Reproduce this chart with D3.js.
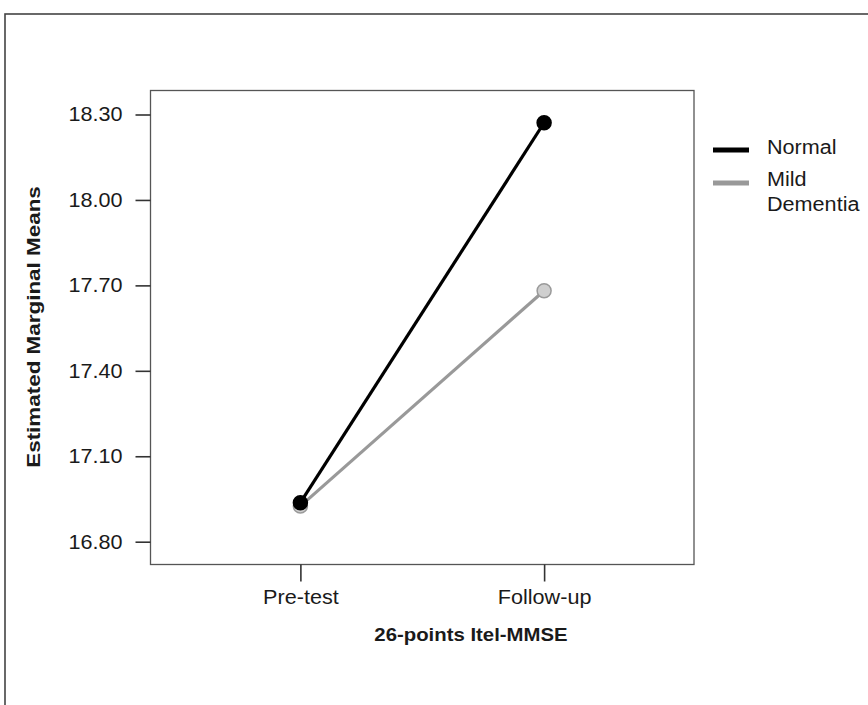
<!DOCTYPE html>
<html><head><meta charset="utf-8">
<script src="https://cdn.jsdelivr.net/npm/d3@7"></script>
<style>
html,body{margin:0;padding:0;background:#fff;}
text{font-family:"Liberation Sans",Arial,sans-serif;fill:#1a1a1a;}
</style></head>
<body><svg id="c" width="868" height="705"></svg>
<script>
const timepoints = ["Pre-test", "Follow-up"];
const seriesNames = ["Normal", "Mild Dementia"];
const normalMeans = [16.937, 18.271];
const mildMeans = [16.925, 17.681];
const yTicks = [16.80, 17.10, 17.40, 17.70, 18.00, 18.30];
const xTitle = "26-points Itel-MMSE";
const yTitle = "Estimated Marginal Means";

const svg = d3.select("#c");
const stretch = 1.08;
function widen(sel, k){ sel.each(function(){ const w=this.getComputedTextLength(); d3.select(this).attr("textLength", w*(k||stretch)).attr("lengthAdjust","spacingAndGlyphs"); }); }

// outer frame
svg.append("rect").attr("x",5).attr("y",14).attr("width",1000).attr("height",1000)
  .attr("fill","none").attr("stroke","#444").attr("stroke-width",1.6);

const L=150.5, R=694, T=90.5, B=564.5;
const y = d3.scaleLinear().domain([16.80,18.30]).range([541.7,114.5]);
const x = d3.scalePoint().domain(timepoints).range([L,R]).padding(0.615);

// plot box
svg.append("rect").attr("x",L).attr("y",T).attr("width",R-L).attr("height",B-T)
  .attr("fill","none").attr("stroke","#555").attr("stroke-width",1.3);

const ff = '"Liberation Sans",Arial,sans-serif';
// y axis
const yAx = svg.append("g").attr("transform",`translate(${L},0)`)
  .call(d3.axisLeft(y).tickValues(yTicks).tickFormat(d3.format(".2f")).tickSize(15).tickPadding(13));
yAx.select(".domain").remove();
yAx.selectAll("line").attr("stroke","#333").attr("stroke-width",1.6);
yAx.selectAll("text").attr("font-size",20).attr("fill","#1a1a1a").style("font-family",ff).call(widen);

// x axis
const xAx = svg.append("g").attr("transform",`translate(0,${B})`)
  .call(d3.axisBottom(x).tickSize(17).tickPadding(8));
xAx.select(".domain").remove();
xAx.selectAll("line").attr("stroke","#333").attr("stroke-width",1.6);
xAx.selectAll("text").attr("font-size",20).attr("fill","#1a1a1a").style("font-family",ff).call(widen);

// titles
svg.append("text").attr("x",471).attr("y",641).attr("text-anchor","middle")
  .attr("font-size",18.5).attr("font-weight","bold").text(xTitle).call(widen, 1.1);
svg.append("text").attr("transform","translate(40,327) rotate(-90)").attr("text-anchor","middle")
  .attr("font-size",19).attr("font-weight","bold").text(yTitle).call(widen, 1.18);

// lines and markers
const series = [
  {name: seriesNames[1], vals: mildMeans, stroke:"#999", fill:"#cfcfcf", mstroke:"#9a9a9a"},
  {name: seriesNames[0], vals: normalMeans, stroke:"#000", fill:"#000", mstroke:"#000"}
];
const line = d3.line().x((d,i)=>x(timepoints[i])).y(d=>y(d));
series.forEach(s=>{
  svg.append("path").datum(s.vals).attr("d",line).attr("fill","none")
    .attr("stroke",s.stroke).attr("stroke-width",3.2);
});
series.forEach(s=>{
  svg.selectAll(null).data(s.vals).enter().append("circle")
    .attr("cx",(d,i)=>x(timepoints[i])).attr("cy",d=>y(d)).attr("r",7)
    .attr("fill",s.fill).attr("stroke",s.mstroke).attr("stroke-width",1.5);
});

// legend
const leg = svg.append("g");
const legRows = [
  {name: seriesNames[0], color:"#000", sy:150, lines:["Normal"], ty:[154]},
  {name: seriesNames[1], color:"#999", sy:183, lines:["Mild","Dementia"], ty:[186,211]}
];
legRows.forEach(r=>{
  leg.append("line").attr("x1",713).attr("x2",749).attr("y1",r.sy).attr("y2",r.sy)
    .attr("stroke",r.color).attr("stroke-width",5);
  r.lines.forEach((t,i)=>{
    leg.append("text").attr("x",767).attr("y",r.ty[i]).attr("font-size",20).text(t).call(widen);
  });
});
</script></body></html>
